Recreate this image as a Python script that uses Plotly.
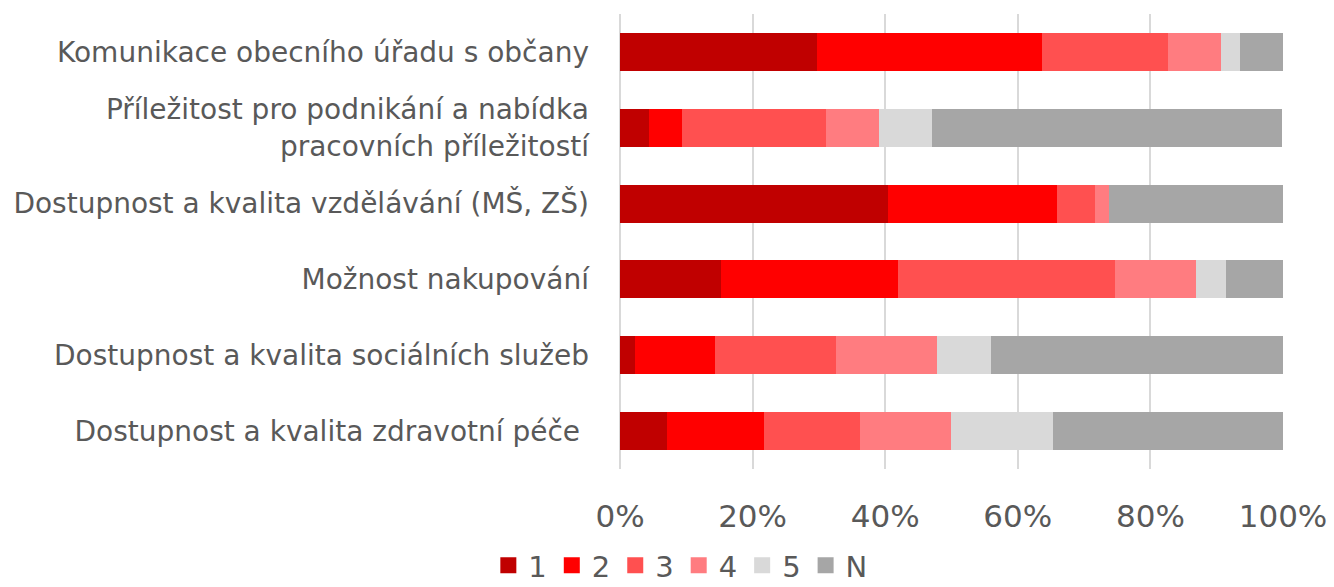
import plotly.graph_objects as go

categories = [
    "Komunikace obecního úřadu s občany",
    "Příležitost pro podnikání a nabídka<br>pracovních příležitostí",
    "Dostupnost a kvalita vzdělávání (MŠ, ZŠ)",
    "Možnost nakupování",
    "Dostupnost a kvalita sociálních služeb",
    "Dostupnost a kvalita zdravotní péče\u00a0",
]
series_names = ["1", "2", "3", "4", "5", "N"]
values = {
    "1": [29.7, 4.3, 40.4, 15.2, 2.2, 7.1],
    "2": [34.0, 5.1, 25.5, 26.8, 12.2, 14.6],
    "3": [18.9, 21.7, 5.7, 32.7, 18.2, 14.5],
    "4": [8.0, 7.9, 2.2, 12.2, 15.2, 13.7],
    "5": [2.9, 8.1, 0.0, 4.5, 8.1, 15.4],
    "N": [6.5, 52.8, 26.2, 8.6, 44.1, 34.7],
}
colors = ["#C00000", "#FF0000", "#FF5050", "#FF7C80", "#D9D9D9", "#A6A6A6"]
tick_vals = [0, 20, 40, 60, 80, 100]
tick_text = ["0%", "20%", "40%", "60%", "80%", "100%"]

fig = go.Figure()
for name, col in zip(series_names, colors):
    fig.add_trace(go.Bar(
        y=categories, x=values[name], name=name,
        orientation="h", marker=dict(color=col, line=dict(width=0)),
        width=0.5, showlegend=False,
    ))
for name, col in zip(series_names, colors):
    fig.add_trace(go.Scatter(
        x=[None], y=[None], mode="markers", name=name,
        marker=dict(symbol="square", size=18, color=col),
    ))

fig.update_layout(
    barmode="stack",
    width=1334, height=587,
    margin=dict(l=620, r=51, t=14, b=118, autoexpand=False),
    plot_bgcolor="white", paper_bgcolor="white",
    font=dict(family="DejaVu Sans", color="#595959"),
    showlegend=True,
    legend=dict(orientation="h", xref="container", yref="paper",
                x=0.510, xanchor="center", y=-0.212, yanchor="middle",
                font=dict(size=29, color="#595959"), traceorder="normal",
                itemwidth=30, tracegroupgap=0),
    xaxis=dict(range=[0, 100], tickvals=tick_vals, ticktext=tick_text,
               showgrid=True, gridcolor="#D9D9D9", gridwidth=2,
               zeroline=True, zerolinecolor="#D9D9D9", zerolinewidth=2,
               showline=False, automargin=False,
               tickfont=dict(size=31, color="#595959"),
               ticklabelstandoff=26),
    yaxis=dict(range=[5.5, -0.5], showgrid=False, zeroline=False,
               automargin=False,
               tickfont=dict(size=28, color="#595959"),
               ticklabelstandoff=30),
)
fig.write_html("out.html", config={"displayModeBar": False},
               post_script="document.body.style.margin='0';document.body.style.overflow='hidden';")
